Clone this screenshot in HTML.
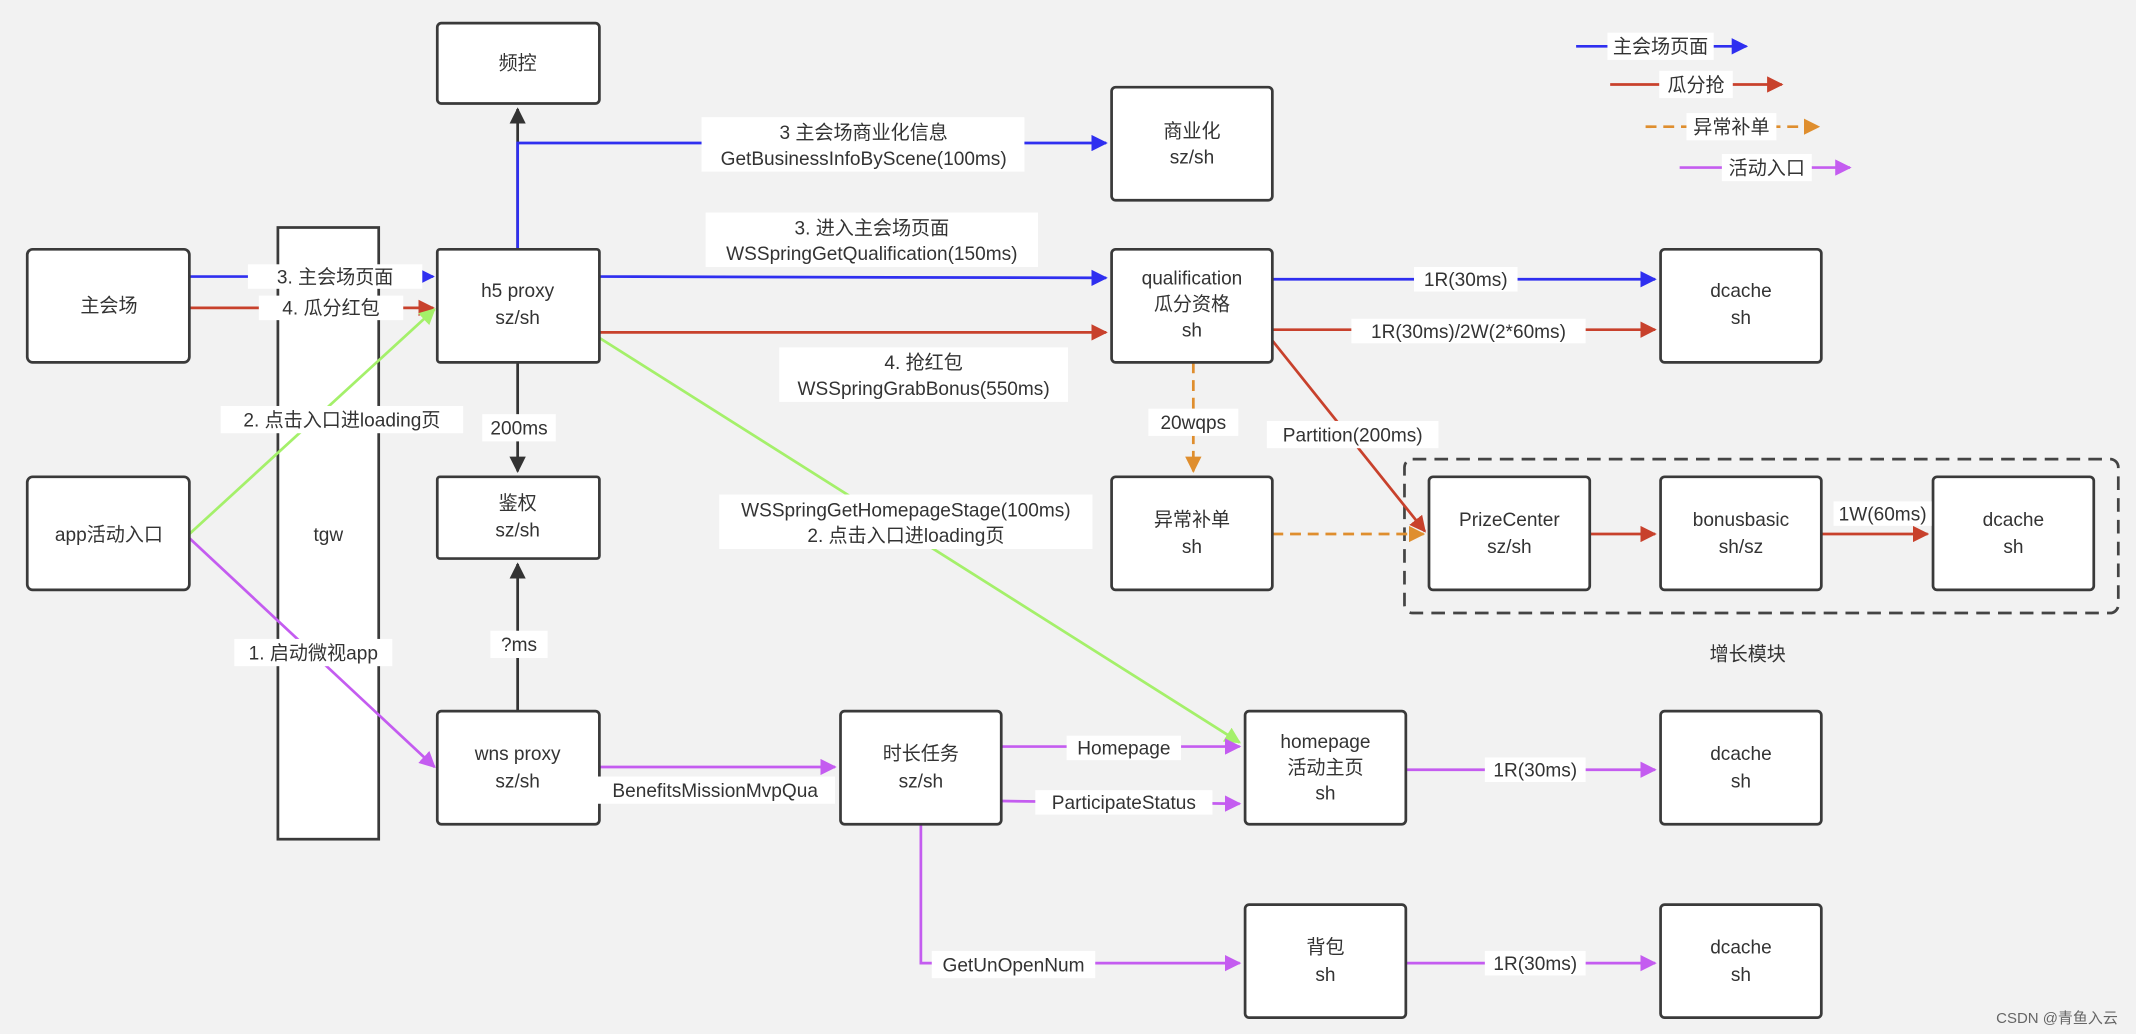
<!DOCTYPE html>
<html><head><meta charset="utf-8"><style>
html,body{margin:0;padding:0;background:#f2f2f2;}
svg{display:block;}
text{font-family:"Liberation Sans","Noto Sans CJK SC",sans-serif;font-size:14px;fill:#333;text-anchor:middle;}
.b{fill:#fff;stroke:#3a3a3a;stroke-width:2;}
.lb{fill:#fff;}
</style></head><body>
<svg width="2136" height="1034" viewBox="0 0 1568 759" preserveAspectRatio="none" xmlns="http://www.w3.org/2000/svg">
<defs>
<marker id="ab" viewBox="0 0 10 10" refX="9" refY="5" markerWidth="12" markerHeight="12" markerUnits="userSpaceOnUse" orient="auto"><path d="M0,0L10,5L0,10z" fill="#2f2ff0"/></marker>
<marker id="ar" viewBox="0 0 10 10" refX="9" refY="5" markerWidth="12" markerHeight="12" markerUnits="userSpaceOnUse" orient="auto"><path d="M0,0L10,5L0,10z" fill="#c8412c"/></marker>
<marker id="ao" viewBox="0 0 10 10" refX="9" refY="5" markerWidth="12" markerHeight="12" markerUnits="userSpaceOnUse" orient="auto"><path d="M0,0L10,5L0,10z" fill="#df8e2e"/></marker>
<marker id="ap" viewBox="0 0 10 10" refX="9" refY="5" markerWidth="12" markerHeight="12" markerUnits="userSpaceOnUse" orient="auto"><path d="M0,0L10,5L0,10z" fill="#c45cf0"/></marker>
<marker id="ag" viewBox="0 0 10 10" refX="9" refY="5" markerWidth="12" markerHeight="12" markerUnits="userSpaceOnUse" orient="auto"><path d="M0,0L10,5L0,10z" fill="#a4f06a"/></marker>
<marker id="ak" viewBox="0 0 10 10" refX="9" refY="5" markerWidth="12" markerHeight="12" markerUnits="userSpaceOnUse" orient="auto"><path d="M0,0L10,5L0,10z" fill="#333"/></marker>
</defs>
<rect width="1568" height="759" fill="#f2f2f2"/>

<!-- dashed group -->
<rect x="1031" y="337" width="524" height="113" rx="6" fill="none" stroke="#444" stroke-width="2" stroke-dasharray="10,6"/>
<text x="1283" y="485">增长模块</text>

<!-- tgw -->
<rect class="b" x="204" y="167" width="74" height="449"/>
<text x="241" y="397">tgw</text>

<!-- connectors -->
<g stroke-width="2" fill="none">
<line x1="380" y1="183" x2="380" y2="80" stroke="#333" marker-end="url(#ak)"/>
<polyline points="380,183 380,105 812,105" stroke="#2f2ff0" marker-end="url(#ab)"/>
<line x1="139" y1="203" x2="318" y2="203" stroke="#2f2ff0" marker-end="url(#ab)"/>
<line x1="139" y1="226" x2="318" y2="226" stroke="#c8412c" marker-end="url(#ar)"/>
<line x1="139" y1="392" x2="319" y2="227" stroke="#a4f06a" marker-end="url(#ag)"/>
<line x1="139" y1="395" x2="319" y2="563" stroke="#c45cf0" marker-end="url(#ap)"/>
<line x1="440" y1="203" x2="812" y2="204" stroke="#2f2ff0" marker-end="url(#ab)"/>
<line x1="440" y1="244" x2="812" y2="244" stroke="#c8412c" marker-end="url(#ar)"/>
<line x1="440" y1="248" x2="910" y2="545" stroke="#a4f06a" marker-end="url(#ag)"/>
<line x1="380" y1="266" x2="380" y2="346" stroke="#333" marker-end="url(#ak)"/>
<line x1="380" y1="522" x2="380" y2="414" stroke="#333" marker-end="url(#ak)"/>
<line x1="934" y1="205" x2="1215" y2="205" stroke="#2f2ff0" marker-end="url(#ab)"/>
<line x1="934" y1="242" x2="1215" y2="242" stroke="#c8412c" marker-end="url(#ar)"/>
<line x1="934" y1="250" x2="1046" y2="390" stroke="#c8412c" marker-end="url(#ar)"/>
<line x1="876" y1="266" x2="876" y2="346" stroke="#df8e2e" stroke-dasharray="8,5" marker-end="url(#ao)"/>
<line x1="934" y1="392" x2="1045" y2="392" stroke="#df8e2e" stroke-dasharray="8,5" marker-end="url(#ao)"/>
<line x1="1167" y1="392" x2="1215" y2="392" stroke="#c8412c" marker-end="url(#ar)"/>
<line x1="1337" y1="392" x2="1415" y2="392" stroke="#c8412c" marker-end="url(#ar)"/>
<line x1="440" y1="563" x2="613" y2="563" stroke="#c45cf0" marker-end="url(#ap)"/>
<line x1="735" y1="548" x2="910" y2="548" stroke="#c45cf0" marker-end="url(#ap)"/>
<line x1="735" y1="588" x2="910" y2="590" stroke="#c45cf0" marker-end="url(#ap)"/>
<polyline points="676,605 676,707 910,707" stroke="#c45cf0" marker-end="url(#ap)"/>
<line x1="1032" y1="565" x2="1215" y2="565" stroke="#c45cf0" marker-end="url(#ap)"/>
<line x1="1032" y1="707" x2="1215" y2="707" stroke="#c45cf0" marker-end="url(#ap)"/>
</g>

<!-- boxes -->
<rect class="b" x="321" y="17" width="119" height="59" rx="3"/><text x="380" y="51">频控</text>
<rect class="b" x="816" y="64" width="118" height="83" rx="3"/><text x="875" y="101">商业化</text><text x="875" y="120">sz/sh</text>
<rect class="b" x="20" y="183" width="119" height="83" rx="4"/><text x="80" y="229">主会场</text>
<rect class="b" x="321" y="183" width="119" height="83" rx="2"/><text x="380" y="218">h5 proxy</text><text x="380" y="238">sz/sh</text>
<rect class="b" x="816" y="183" width="118" height="83" rx="3"/><text x="875" y="209">qualification</text><text x="875" y="228">瓜分资格</text><text x="875" y="247">sh</text>
<rect class="b" x="1219" y="183" width="118" height="83" rx="3"/><text x="1278" y="218">dcache</text><text x="1278" y="238">sh</text>
<rect class="b" x="20" y="350" width="119" height="83" rx="4"/><text x="80" y="397">app活动入口</text>
<rect class="b" x="321" y="350" width="119" height="60" rx="2"/><text x="380" y="374">鉴权</text><text x="380" y="394">sz/sh</text>
<rect class="b" x="816" y="350" width="118" height="83" rx="3"/><text x="875" y="386">异常补单</text><text x="875" y="406">sh</text>
<rect class="b" x="1049" y="350" width="118" height="83" rx="3"/><text x="1108" y="386">PrizeCenter</text><text x="1108" y="406">sz/sh</text>
<rect class="b" x="1219" y="350" width="118" height="83" rx="3"/><text x="1278" y="386">bonusbasic</text><text x="1278" y="406">sh/sz</text>
<rect class="b" x="1419" y="350" width="118" height="83" rx="3"/><text x="1478" y="386">dcache</text><text x="1478" y="406">sh</text>
<rect class="b" x="321" y="522" width="119" height="83" rx="3"/><text x="380" y="558">wns proxy</text><text x="380" y="578">sz/sh</text>
<rect class="b" x="617" y="522" width="118" height="83" rx="3"/><text x="676" y="558">时长任务</text><text x="676" y="578">sz/sh</text>
<rect class="b" x="914" y="522" width="118" height="83" rx="3"/><text x="973" y="549">homepage</text><text x="973" y="568">活动主页</text><text x="973" y="587">sh</text>
<rect class="b" x="1219" y="522" width="118" height="83" rx="3"/><text x="1278" y="558">dcache</text><text x="1278" y="578">sh</text>
<rect class="b" x="914" y="664" width="118" height="83" rx="3"/><text x="973" y="700">背包</text><text x="973" y="720">sh</text>
<rect class="b" x="1219" y="664" width="118" height="83" rx="3"/><text x="1278" y="700">dcache</text><text x="1278" y="720">sh</text>

<!-- labels -->
<rect class="lb" x="515" y="86" width="237" height="40"/>
<text x="634" y="102">3 主会场商业化信息</text><text x="634" y="121">GetBusinessInfoByScene(100ms)</text>
<rect class="lb" x="518" y="156" width="244" height="40"/>
<text x="640" y="172">3. 进入主会场页面</text><text x="640" y="191">WSSpringGetQualification(150ms)</text>
<rect class="lb" x="572" y="255" width="212" height="40"/>
<text x="678" y="271">4. 抢红包</text><text x="678" y="290">WSSpringGrabBonus(550ms)</text>
<rect class="lb" x="182" y="194" width="128" height="18"/><text x="246" y="208">3. 主会场页面</text>
<rect class="lb" x="190" y="217" width="106" height="18"/><text x="243" y="231">4. 瓜分红包</text>
<rect class="lb" x="162" y="298" width="178" height="20"/><text x="251" y="313">2. 点击入口进loading页</text>
<rect class="lb" x="354" y="304" width="54" height="20"/><text x="381" y="319">200ms</text>
<rect class="lb" x="172" y="469" width="116" height="20"/><text x="230" y="484">1. 启动微视app</text>
<rect class="lb" x="360" y="463" width="42" height="20"/><text x="381" y="478">?ms</text>
<rect class="lb" x="528" y="363" width="274" height="40"/>
<text x="665" y="379">WSSpringGetHomepageStage(100ms)</text><text x="665" y="398">2. 点击入口进loading页</text>
<rect class="lb" x="843" y="300" width="66" height="20"/><text x="876" y="315">20wqps</text>
<rect class="lb" x="930" y="309" width="126" height="20"/><text x="993" y="324">Partition(200ms)</text>
<rect class="lb" x="1038" y="196" width="76" height="18"/><text x="1076" y="210">1R(30ms)</text>
<rect class="lb" x="992" y="234" width="172" height="18"/><text x="1078" y="248">1R(30ms)/2W(2*60ms)</text>
<rect class="lb" x="1346" y="368" width="72" height="18"/><text x="1382" y="382">1W(60ms)</text>
<rect class="lb" x="437" y="570" width="176" height="20"/><text x="525" y="585">BenefitsMissionMvpQua</text>
<rect class="lb" x="783" y="540" width="84" height="18"/><text x="825" y="554">Homepage</text>
<rect class="lb" x="760" y="580" width="130" height="18"/><text x="825" y="594">ParticipateStatus</text>
<rect class="lb" x="684" y="698" width="120" height="20"/><text x="744" y="713">GetUnOpenNum</text>
<rect class="lb" x="1090" y="556" width="74" height="18"/><text x="1127" y="570">1R(30ms)</text>
<rect class="lb" x="1090" y="698" width="74" height="18"/><text x="1127" y="712">1R(30ms)</text>

<!-- legend -->
<g stroke-width="2">
<line x1="1157" y1="34" x2="1282" y2="34" stroke="#2f2ff0" marker-end="url(#ab)"/>
<line x1="1182" y1="62" x2="1308" y2="62" stroke="#c8412c" marker-end="url(#ar)"/>
<line x1="1208" y1="93" x2="1335" y2="93" stroke="#df8e2e" stroke-dasharray="8,5" marker-end="url(#ao)"/>
<line x1="1233" y1="123" x2="1358" y2="123" stroke="#c45cf0" marker-end="url(#ap)"/>
</g>
<rect x="1180" y="24" width="78" height="20" fill="#fff"/><text x="1219" y="39">主会场页面</text>
<rect x="1218" y="52" width="54" height="20" fill="#fff"/><text x="1245" y="67">瓜分抢</text>
<rect x="1238" y="83" width="66" height="20" fill="#fff"/><text x="1271" y="98">异常补单</text>
<rect x="1264" y="113" width="66" height="20" fill="#fff"/><text x="1297" y="128">活动入口</text>

<text x="1510" y="751" style="font-size:11px;fill:#666">CSDN @青鱼入云</text>
</svg>
</body></html>
